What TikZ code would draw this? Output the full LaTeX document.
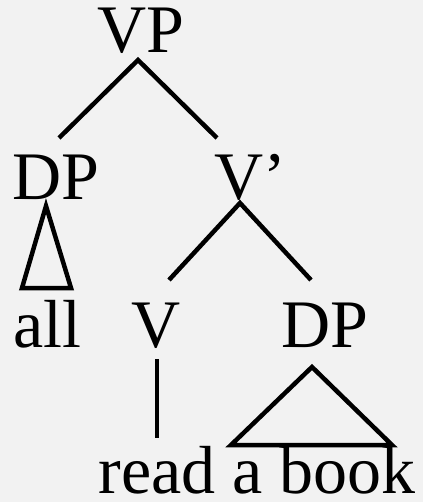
\documentclass[tikz,border=0pt]{standalone}
\usepackage{fontspec}
\setmainfont{Liberation Serif}
\definecolor{bg}{HTML}{F2F2F2}
\begin{document}
\begin{tikzpicture}[x=1pt,y=-1pt,
  lbl/.style={anchor=base,inner sep=0pt,font=\fontsize{68}{80}\selectfont},
  br/.style={line width=4.5pt}]
\fill[bg] (0,0) rectangle (423,502);
\useasboundingbox (0,0) rectangle (423,502);
\node[lbl] (vp) at (141,53) {VP};
\node[lbl] (dp1) at (56,200) {DP};
\node[lbl] (vbar) at (250,200) {V’};
\node[lbl] (all) at (47,347) {all};
\node[lbl] (v) at (156,347) {V};
\node[lbl] (dp2) at (325,347) {DP};
\node[lbl] (rab) at (257,493) {read a book};
\coordinate (vpb) at (138,60);
\coordinate (dp1t) at (59,138);
\coordinate (vbart) at (217,138);
\coordinate (vbarb) at (240,203);
\coordinate (vt) at (169,280);
\coordinate (dp2t) at (311,280);
\coordinate (vb) at (157,359);
\coordinate (rabt) at (157,438);
\draw[br] (dp1t) -- (vpb) -- (vbart);
\draw[br] (vt) -- (vbarb) -- (dp2t);
\draw[br] (vb) -- (rabt);
\coordinate (t1a) at (46,206);
\draw[br] (t1a) -- (22,288) -- (71,288) -- cycle;
\coordinate (t2a) at (312,367);
\draw[br] (t2a) -- (231,445) -- (392,445) -- cycle;
\end{tikzpicture}
\end{document}
